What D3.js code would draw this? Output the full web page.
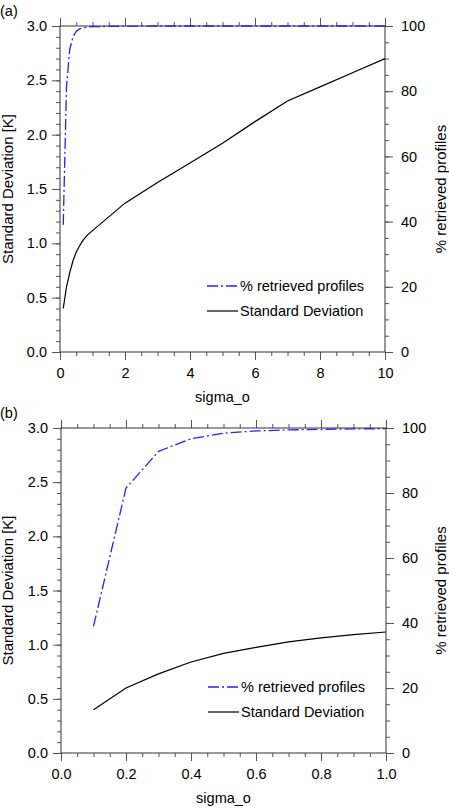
<!DOCTYPE html>
<html>
<head>
<meta charset="utf-8">
<script src="https://cdn.jsdelivr.net/npm/d3@7"></script>
<style>
  body { margin: 0; background: #fff; }
  text { font-family: "Liberation Sans", Arial, Helvetica, sans-serif; fill: #000; }
</style>
</head>
<body>
<svg width="449" height="808"></svg>
<script>
"use strict";

// Data
var sigmaO = [0.1, 0.2, 0.3, 0.4, 0.5, 0.6, 0.7, 0.8, 0.9, 1.0, 2, 3, 4, 5, 6, 7, 8, 9, 10];
var stdDev = [0.40, 0.60, 0.73, 0.84, 0.92, 0.975, 1.025, 1.062, 1.092, 1.117,
              1.37, 1.56, 1.74, 1.92, 2.12, 2.31, 2.44, 2.57, 2.70];
var pctRetrieved = [39, 81.5, 92.8, 96.7, 98.4, 99.1, 99.4, 99.6, 99.7, 99.8,
                    99.95, 100, 100, 100, 100, 100, 100, 100, 100];

var leftTicks = [0, 0.5, 1.0, 1.5, 2.0, 2.5, 3.0];
var rightTicks = [0, 20, 40, 60, 80, 100];
var xTicksA = [0, 2, 4, 6, 8, 10];
var xTicksB = [0, 0.2, 0.4, 0.6, 0.8, 1.0];
var legendLabels = ["% retrieved profiles", "Standard Deviation"];

var svg = d3.select("svg");

var drawPanel = function(cfg) {

    var x = d3.scaleLinear().domain([0, cfg.xMax]).range([cfg.left, cfg.right]);
    var y = d3.scaleLinear().domain([0, 3]).range([cfg.bottom, cfg.top]);
    var yPct = d3.scaleLinear().domain([0, 100]).range([cfg.bottom, cfg.top]);

    var g = svg.append("g").attr("class", "panel");

    var minorX = d3.range(0, cfg.xMax + 1e-9, cfg.xMinor);
    var minorY = d3.range(0, 3.0001, 0.1);
    var minorPct = d3.range(0, 100.001, 5);

    // Helper to append an axis group
    var addAxis = function(axis, tx, ty, labels) {
        var a = g.append("g")
            .attr("transform", "translate(" + tx + "," + ty + ")")
            .call(axis);
        a.select(".domain").remove();
        a.selectAll("line").attr("stroke", "#555").attr("stroke-width", 1);
        if (labels) {
            a.selectAll("text")
                .style("font-size", "14.5px")
                .style("font-family", "'Liberation Sans', Arial, sans-serif");
        } else {
            a.selectAll("text").remove();
        }
        return a;
    };

    // Minor ticks
    addAxis(d3.axisBottom(x).tickValues(minorX).tickSize(4).tickSizeOuter(0), 0, cfg.bottom, false);
    addAxis(d3.axisTop(x).tickValues(minorX).tickSize(4).tickSizeOuter(0), 0, cfg.top, false);
    addAxis(d3.axisLeft(y).tickValues(minorY).tickSize(4).tickSizeOuter(0), cfg.left, 0, false);
    addAxis(d3.axisRight(yPct).tickValues(minorPct).tickSize(4).tickSizeOuter(0), cfg.right, 0, false);

    // Major ticks
    addAxis(d3.axisBottom(x).tickValues(cfg.xTicks).tickFormat(d3.format(cfg.xFormat))
        .tickSize(8).tickPadding(8).tickSizeOuter(0), 0, cfg.bottom, true);
    addAxis(d3.axisTop(x).tickValues(cfg.xTicks).tickSize(8).tickSizeOuter(0), 0, cfg.top, false);
    addAxis(d3.axisLeft(y).tickValues(leftTicks).tickFormat(d3.format(".1f"))
        .tickSize(8).tickPadding(5).tickSizeOuter(0), cfg.left, 0, true);
    addAxis(d3.axisRight(yPct).tickValues(rightTicks).tickFormat(d3.format("d"))
        .tickSize(8).tickPadding(8).tickSizeOuter(0), cfg.right, 0, true);

    // Frame
    g.append("rect")
        .attr("x", cfg.left)
        .attr("y", cfg.top)
        .attr("width", cfg.right - cfg.left)
        .attr("height", cfg.bottom - cfg.top)
        .attr("fill", "none")
        .attr("stroke", "#333")
        .attr("stroke-width", 1);

    // Lines (only the points inside the x domain)
    var idx = d3.range(sigmaO.length).filter(function(i) { return sigmaO[i] <= cfg.xMax + 1e-9; });

    var sdLine = d3.line()
        .x(function(i) { return x(sigmaO[i]); })
        .y(function(i) { return y(stdDev[i]); });
    var pctLine = d3.line()
        .x(function(i) { return x(sigmaO[i]); })
        .y(function(i) { return yPct(pctRetrieved[i]); });

    g.append("path")
        .attr("d", sdLine(idx))
        .attr("fill", "none")
        .attr("stroke", "#000")
        .attr("stroke-width", 1.2);

    g.append("path")
        .attr("d", pctLine(idx))
        .attr("fill", "none")
        .attr("stroke", "#2222ff")
        .attr("stroke-width", 1.3)
        .attr("stroke-dasharray", "11,3,2,3");

    // Legend
    var legend = g.append("g")
        .attr("transform", "translate(" + (cfg.left + 147) + "," + (cfg.bottom - 66) + ")");
    legend.append("line")
        .attr("x1", 0).attr("x2", 31).attr("y1", 0).attr("y2", 0)
        .attr("stroke", "#2222ff").attr("stroke-width", 1.3)
        .attr("stroke-dasharray", "11,3,2,3");
    legend.append("line")
        .attr("x1", 0).attr("x2", 31).attr("y1", 25).attr("y2", 25)
        .attr("stroke", "#000").attr("stroke-width", 1.2);
    legend.selectAll("text.leg")
        .data(legendLabels)
        .enter().append("text")
            .attr("class", "leg")
            .attr("x", 33)
            .attr("y", function(d, i) { return i * 25 + 5; })
            .style("font-size", "14.5px")
            .text(function(d) { return d; });

    // Axis titles
    g.append("text")
        .attr("transform", "translate(" + ((cfg.left + cfg.right) / 2) + "," + (cfg.bottom + 50) + ")")
        .style("text-anchor", "middle")
        .style("font-size", "14.5px")
        .text("sigma_o");

    g.append("text")
        .attr("transform", "translate(13," + ((cfg.top + cfg.bottom) / 2) + ") rotate(-90)")
        .style("text-anchor", "middle")
        .style("font-size", "15px")
        .text("Standard Deviation [K]");

    g.append("text")
        .attr("transform", "translate(446," + ((cfg.top + cfg.bottom) / 2) + ") rotate(-90)")
        .style("text-anchor", "middle")
        .style("font-size", "15px")
        .text("% retrieved profiles");

    // Panel label
    g.append("text")
        .attr("x", 0)
        .attr("y", cfg.top - 10)
        .style("font-size", "14.5px")
        .text(cfg.label);
};

drawPanel({ label: "(a)", left: 60, right: 385, top: 26, bottom: 352,
            xMax: 10, xTicks: xTicksA, xMinor: 0.5, xFormat: "d" });
drawPanel({ label: "(b)", left: 61, right: 386, top: 428, bottom: 753,
            xMax: 1, xTicks: xTicksB, xMinor: 0.05, xFormat: ".1f" });
</script>
</body>
</html>
